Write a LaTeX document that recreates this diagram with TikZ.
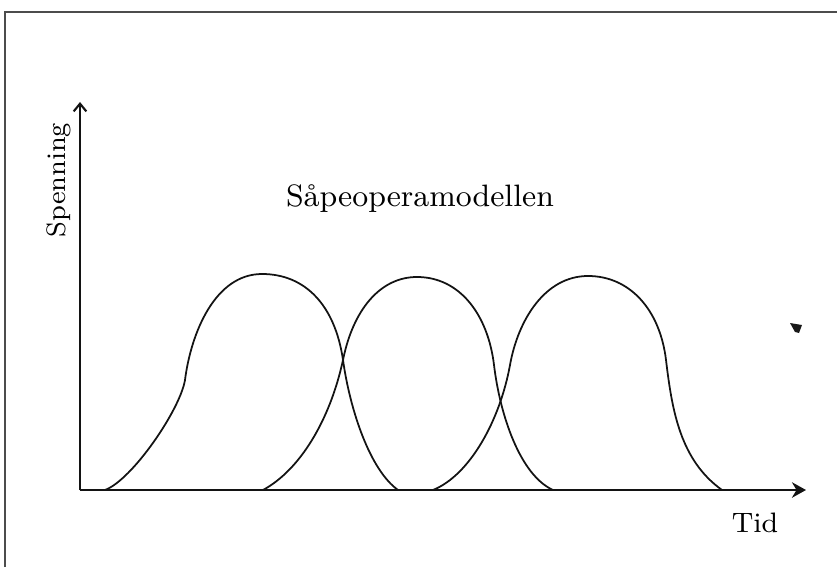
\documentclass[tikz,border=0pt]{standalone}
\usetikzlibrary{arrows.meta}
\begin{document}
\begin{tikzpicture}[x=0.01cm,y=-0.01cm,
  curve/.style={gray!15!black,line width=0.5pt},
  axis/.style={gray!15!black,line width=0.6pt}]
  \useasboundingbox (0,0) rectangle (837,567);
  % frame
  \draw[gray!60!black,line width=0.5pt] (5,567)--(5,12)--(837,12);
  % axes
  \coordinate (O) at (80,490);
  \coordinate (ytop) at (80,102);
  \coordinate (xend) at (806,490);
  \draw[axis,-{Straight Barb[length=2.2pt,width=3.6pt]}] (O)--(ytop);
  \draw[axis,line width=0.8pt,-{Stealth[length=4pt,width=4.4pt]}] (O)--(xend);
  \node[rotate=90,font=\fontsize{7.6}{9}\selectfont] (spenning) at (59,180) {Spenning};
  \node[font=\fontsize{8.8}{10}\selectfont] (title) at (420,199) {Såpeoperamodellen};
  \node[font=\fontsize{8}{9}\selectfont] (tid) at (755,523) {Tid};
  % the three episodes
  \draw[curve] (105,490) .. controls (132,480) and (180,410) .. (185,380)
    .. controls (191,333) and (215,274) .. (262,274)
    .. controls (305,274) and (335,305) .. (343,360)
    .. controls (350,410) and (370,470) .. (398,490);
  \draw[curve] (263,490) .. controls (300,470) and (330,420) .. (343,360)
    .. controls (353,310) and (380,277) .. (417,277)
    .. controls (460,277) and (488,315) .. (494,365)
    .. controls (500,415) and (520,475) .. (553,490);
  \draw[curve] (433,490) .. controls (470,475) and (500,420) .. (510,365)
    .. controls (518,320) and (545,276) .. (588,276)
    .. controls (630,276) and (660,310) .. (666,360)
    .. controls (672,410) and (680,460) .. (722,490);
  % speck
  \fill[gray!20!black] (790,323)--(802,325)--(799,333)--(795,332)--cycle;
\end{tikzpicture}
\end{document}
